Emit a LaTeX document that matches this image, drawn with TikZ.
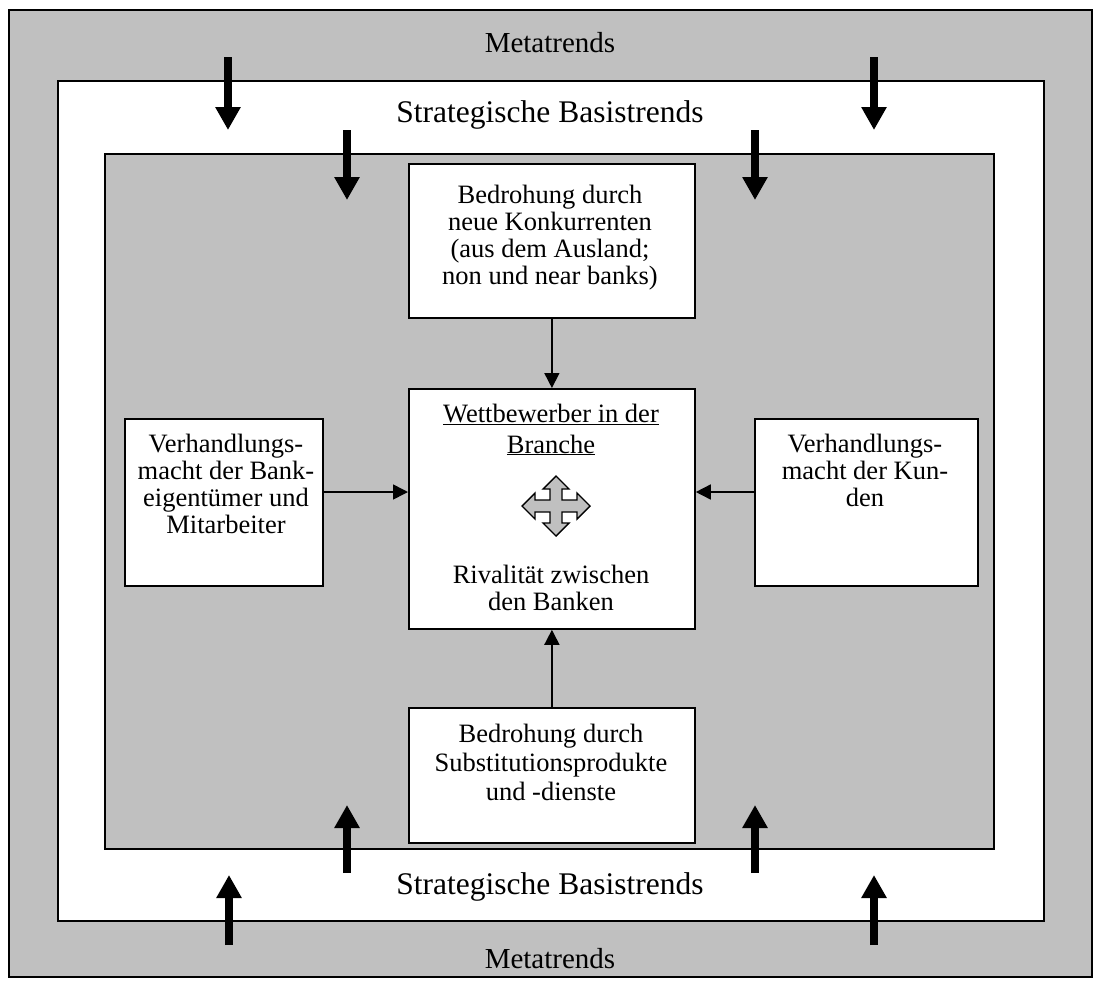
\documentclass[tikz,border=0pt]{standalone}
\usepackage{fontspec}
\setmainfont{Liberation Serif}
\usetikzlibrary{arrows.meta}
\definecolor{bggray}{HTML}{C0C0C0}
\begin{document}
\begin{tikzpicture}[x=1pt,y=-1pt,
 frame/.style={draw=black, line width=2pt},
 box/.style={draw=black, fill=white, line width=1.8pt, inner sep=0pt, anchor=north west},
 boxtext/.style={font=\fontsize{26.5}{27}\selectfont, align=center, inner sep=0pt, anchor=base},
 titletext/.style={font=\fontsize{31.5}{34}\selectfont, inner sep=0pt, anchor=base},
 metatext/.style={font=\fontsize{29}{32}\selectfont, inner sep=0pt, anchor=base},
 bigarrow/.style={line width=8pt, -{Triangle[length=23pt,width=24pt]}},
 thinarrow/.style={line width=1.6pt, -{Triangle[length=15pt,width=15pt]}},
]
\useasboundingbox (0,0) rectangle (1101,986);
% frames
\draw[frame, fill=bggray] (9,10) rectangle (1092,977);
\draw[frame, fill=white] (58,81) rectangle (1044,921);
\draw[frame, fill=bggray] (105,154) rectangle (994,849);
% titles
\node[metatext] (metatop) at (550,52) {Metatrends};
\node[titletext] (basistop) at (550,122) {Strategische Basistrends};
\node[titletext] (basisbot) at (550,894) {Strategische Basistrends};
\node[metatext] (metabot) at (550,968) {Metatrends};
% boxes
\node[box, minimum width=286pt, minimum height=154pt] (top) at (408,163) {};
\node[box, minimum width=286pt, minimum height=240pt] (center) at (408,388) {};
\node[box, minimum width=198pt, minimum height=167pt] (left) at (124,418) {};
\node[box, minimum width=223pt, minimum height=167pt] (right) at (754,418) {};
\node[box, minimum width=286pt, minimum height=135pt] (bottom) at (408,707) {};
% box texts (anchor base = baseline of last line)
\node[boxtext] (toptext) at (550,284) {Bedrohung durch\\neue Konkurrenten\\(aus dem Ausland;\\non und near banks)};
\node[boxtext] (centertext1) at (551,453) {\underline{Wettbewerber in der}\\[4pt]\underline{Branche}};
\node[boxtext] (centertext2) at (551,610) {Rivalität zwischen\\den Banken};
\node[boxtext] (lefttext) at (226,533) {Verhandlungs-\\macht der Bank-\\eigentümer und\\Mitarbeiter};
\node[boxtext] (righttext) at (865,506) {Verhandlungs-\\macht der Kun-\\den};
\node[boxtext, font=\fontsize{26.5}{29}\selectfont] (bottomtext) at (551,800) {Bedrohung durch\\Substitutionsprodukte\\und -dienste};
% four-way arrow
\begin{scope}[shift={(556,506)}, y=1pt]
\draw[fill=bggray, line width=1.4pt, line join=miter]
 (0,30) -- (13,17) -- (6,17) -- (6,6) -- (21,6) -- (21,13) -- (34,0) -- (21,-13) -- (21,-6) -- (6,-6)
 -- (6,-17) -- (13,-17) -- (0,-30) -- (-13,-17) -- (-6,-17) -- (-6,-6) -- (-21,-6) -- (-21,-13)
 -- (-34,0) -- (-21,13) -- (-21,6) -- (-6,6) -- (-6,17) -- (-13,17) -- cycle;
\end{scope}
% thin arrows
\coordinate (arrowy) at (0,492);
\draw[thinarrow] (top.south) -- (center.north);
\draw[thinarrow] (bottom.north) -- (center.south);
\draw[thinarrow] (left.east |- arrowy) -- (center.west |- arrowy);
\draw[thinarrow] (right.west |- arrowy) -- (center.east |- arrowy);
% thick arrows
\coordinate (a1s) at (228,57);  \coordinate (a1e) at (228,130);
\coordinate (a2s) at (874,57);  \coordinate (a2e) at (874,130);
\coordinate (b1s) at (347,130); \coordinate (b1e) at (347,200);
\coordinate (b2s) at (755,130); \coordinate (b2e) at (755,200);
\coordinate (c1s) at (347,873); \coordinate (c1e) at (347,805);
\coordinate (c2s) at (755,873); \coordinate (c2e) at (755,805);
\coordinate (d1s) at (229,945); \coordinate (d1e) at (229,875);
\coordinate (d2s) at (874,945); \coordinate (d2e) at (874,875);
\foreach \p in {a1,a2,b1,b2,c1,c2,d1,d2}{
 \draw[bigarrow] (\p s) -- (\p e);
}
\end{tikzpicture}
\end{document}
